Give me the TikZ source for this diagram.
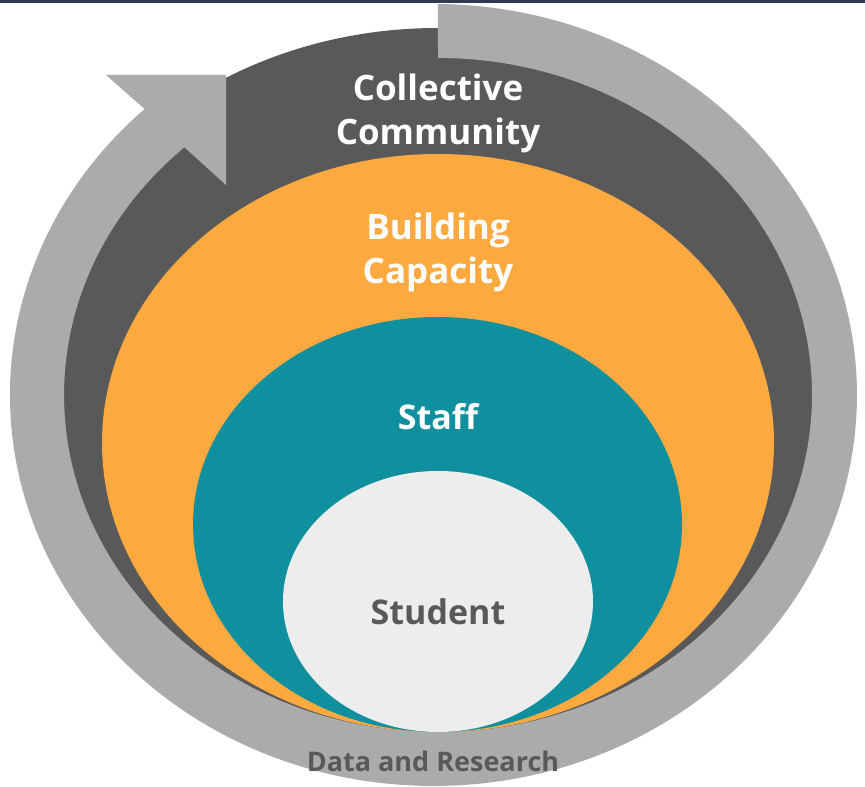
\documentclass[tikz,border=0pt]{standalone}
\usepackage{fontspec}
\setmainfont{Open Sans}
\usetikzlibrary{shapes.geometric}

\definecolor{topbar}{HTML}{2F3B4F}
\definecolor{ringgray}{HTML}{ABABAB}
\definecolor{darkgray}{HTML}{595959}
\definecolor{capacity}{HTML}{FCA940}
\definecolor{staffteal}{HTML}{10909E}
\definecolor{studentgray}{HTML}{EDEDED}

\tikzset{
    layer/.style={shape=ellipse,draw=none,inner sep=0pt},
    ringlabel/.style={font=\bfseries\fontsize{34}{44}\selectfont,align=center}
}

\begin{document}
\begin{tikzpicture}[x=1pt,y=1pt]
    \useasboundingbox (0,0) rectangle (865,787);
    \fill[topbar] (0,784) rectangle (865,787);

    % ellipses
    \node[layer,fill=darkgray,minimum width=826pt,minimum height=704pt] (community) at (438,407) {};

    % arrow
    \fill[ringgray] (437.9,783) arc[start angle=89.4, end angle=-227, x radius=423.5, y radius=391]
        -- (106,712) -- (226,712) -- (226,602) -- (184.4,639.7)
        arc[start angle=-227.3, end angle=90, x radius=374, y radius=337] -- cycle;

    \node[layer,fill=capacity,minimum width=672pt,minimum height=578pt] (building) at (438,344) {};
    \node[layer,fill=staffteal,minimum width=489pt,minimum height=415pt] (staff) at (437.5,262.5) {};
    \node[layer,fill=studentgray,minimum width=310pt,minimum height=261pt] (student) at (438,185.5) {};

    % labels
    \node[ringlabel,font=\bfseries\fontsize{35}{44}\selectfont,text=white] (communitytext) at (438,674) {Collective\\Community};
    \node[ringlabel,font=\bfseries\fontsize{35}{44}\selectfont,text=white] (buildingtext) at (438,535) {Building\\Capacity};
    \node[ringlabel,text=white] (stafftext) at (438,370) {Staff};
    \node[ringlabel,text=darkgray] (studenttext) at (438,175) {Student};
    \node[font=\bfseries\fontsize{27}{32}\selectfont,text=darkgray] (datatext) at (433,26) {Data and Research};
\end{tikzpicture}
\end{document}
